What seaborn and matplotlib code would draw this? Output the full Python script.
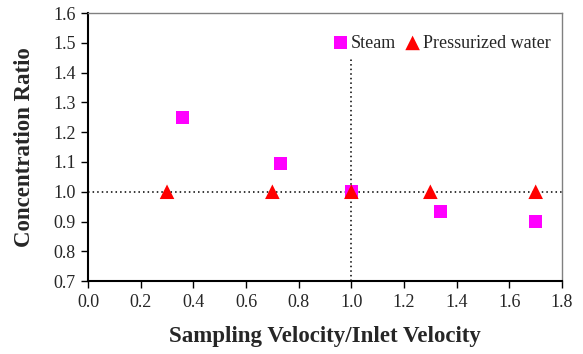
import matplotlib
matplotlib.use("Agg")
import matplotlib.pyplot as plt
import seaborn as sns
import pandas as pd

steam_x = [0.36, 0.73, 1.0, 1.34, 1.70]
steam_y = [1.25, 1.095, 1.0, 0.935, 0.90]
water_x = [0.30, 0.70, 1.0, 1.30, 1.70]
water_y = [1.0, 1.0, 1.0, 1.0, 1.0]
x_ticks = [0.0, 0.2, 0.4, 0.6, 0.8, 1.0, 1.2, 1.4, 1.6, 1.8]
y_ticks = [0.7, 0.8, 0.9, 1.0, 1.1, 1.2, 1.3, 1.4, 1.5, 1.6]

sns.set_style("white")
plt.rcParams['font.family'] = ['Liberation Serif', 'DejaVu Serif']

fig = plt.figure(figsize=(5.83, 3.54), dpi=100)
ax = fig.add_axes([0.151, 0.206, 0.813, 0.757])

# reference lines
ax.axhline(1.0, color='black', linestyle=(0, (1, 2)), linewidth=1.1, zorder=1)
ax.plot([1.0, 1.0], [0.7, 1.45], color='black', linestyle=(0, (1, 2)), linewidth=1.1, zorder=1)

df_s = pd.DataFrame({'x': steam_x, 'y': steam_y})
df_w = pd.DataFrame({'x': water_x, 'y': water_y})
sns.scatterplot(data=df_s, x='x', y='y', ax=ax, marker='s', s=90, color='#FF00FF',
                edgecolor='none', label='Steam', zorder=3)
sns.scatterplot(data=df_w, x='x', y='y', ax=ax, marker='^', s=110, color='#FF0000',
                edgecolor='none', label='Pressurized water', zorder=4)

ax.set_xlim(0.0, 1.8)
ax.set_ylim(0.7, 1.6)
ax.set_xticks(x_ticks)
ax.set_yticks(y_ticks)
ax.set_xticklabels([f"{v:.1f}" for v in x_ticks], fontsize=13)
ax.set_yticklabels([f"{v:.1f}" for v in y_ticks], fontsize=13)
ax.tick_params(axis='both', direction='out', length=5, width=1, color='black',
               left=True, bottom=True, pad=4)

for side in ['left', 'bottom']:
    ax.spines[side].set_color('black')
    ax.spines[side].set_linewidth(1.5)
for side in ['top', 'right']:
    ax.spines[side].set_color('#808080')
    ax.spines[side].set_linewidth(1.0)

ax.set_xlabel('Sampling Velocity/Inlet Velocity', fontsize=16.5, fontweight='bold', labelpad=11)
ax.set_ylabel('Concentration Ratio', fontsize=16.5, fontweight='bold', labelpad=13)

leg = ax.legend(loc='upper right', ncol=2, frameon=False, fontsize=13,
                handletextpad=0.1, columnspacing=0.4, handlelength=1.0,
                bbox_to_anchor=(1.0, 0.96), borderaxespad=0.2)

fig.savefig('out.png', dpi=100)
